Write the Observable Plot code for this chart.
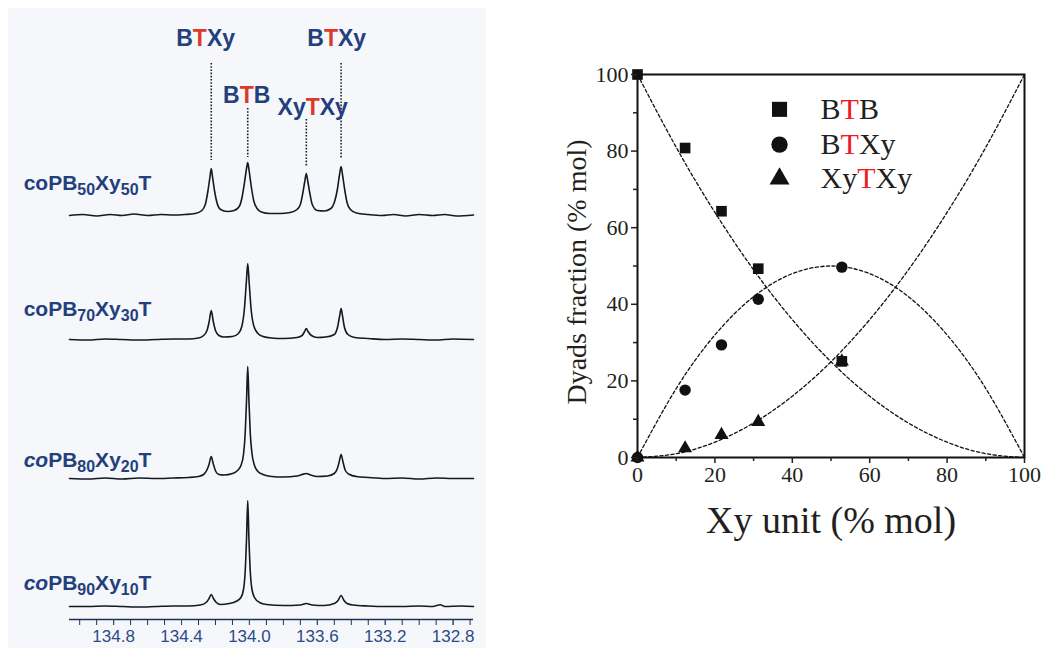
<!DOCTYPE html>
<html><head><meta charset="utf-8">
<script src="https://cdn.jsdelivr.net/npm/d3@7"></script>
<script src="https://cdn.jsdelivr.net/npm/@observablehq/plot@0.6"></script>
<style>
body{margin:0;background:#fff}
#wrap{position:relative;width:1042px;height:648px;overflow:hidden;background:#fff}
#bg{position:absolute;left:8px;top:8px;width:478px;height:640px;background:#f6f7fa}
#left{position:absolute;left:0;top:0}
#right{position:absolute;left:530px;top:0}
</style></head>
<body><div id="wrap"><div id="bg"></div><div id="left"></div><div id="right"></div></div>
<script>
// ---------- Left panel: 13C NMR spectra (ppm, relative intensity in a.u.) ----------
const spectrumNames = ["50/50", "70/30", "80/20", "90/10"];
const spectrumLabels = ["coPB_{50}Xy_{50}T", "coPB_{70}Xy_{30}T", "*co*PB_{80}Xy_{20}T", "*co*PB_{90}Xy_{10}T"];
const spectrumOffsets = [404, 280, 141, 13];
const spectrumLabelY = [436, 310, 159, 36];
const spectrumLabelPpm = 135.33;

const spectrum50 = [[135.06,0],[134.98,1],[134.9,-0.5],[134.82,1],[134.75,0],[134.68,1.5],[134.6,0],[134.52,1],[134.45,0.5],[134.38,1],[134.32,2],[134.28,5],[134.26,11],[134.245,24],[134.233,38],[134.225,47],[134.217,38],[134.205,24],[134.19,12],[134.17,6],[134.13,4],[134.09,5],[134.06,9],[134.045,17],[134.03,32],[134.018,46],[134.01,53],[134.002,45],[133.99,30],[133.975,15],[133.955,7],[133.93,3.5],[133.88,2],[133.82,2],[133.76,3],[133.72,6],[133.7,11],[133.686,22],[133.674,34],[133.665,42],[133.656,34],[133.644,22],[133.63,11],[133.6,5],[133.56,4.5],[133.52,7],[133.5,13],[133.482,26],[133.47,40],[133.46,49],[133.451,40],[133.438,25],[133.425,13],[133.405,6],[133.37,2.5],[133.3,1],[133.22,0],[133.15,1],[133.08,-0.5],[133.0,1],[132.92,0],[132.85,1],[132.78,-0.5],[132.68,0.5]];
const spectrum70 = [[135.06,0],[134.95,-0.5],[134.85,0.5],[134.75,0],[134.65,-0.5],[134.55,0],[134.45,0.5],[134.36,0.5],[134.3,1.5],[134.27,4],[134.25,9],[134.237,18],[134.225,29],[134.213,18],[134.2,9],[134.18,4],[134.15,2.5],[134.1,3],[134.065,6],[134.045,13],[134.03,30],[134.018,58],[134.01,76],[134.002,58],[133.99,30],[133.975,14],[133.95,6],[133.92,3],[133.87,1.5],[133.8,1],[133.72,2],[133.69,4],[133.675,8],[133.665,11],[133.655,8],[133.635,4],[133.6,2],[133.55,2.5],[133.5,5],[133.48,13],[133.468,24],[133.46,31],[133.452,24],[133.44,12],[133.42,5],[133.38,2],[133.3,1],[133.2,0],[133.1,0.5],[133.0,0],[132.9,-0.5],[132.8,0.5],[132.68,0]];
const spectrum80 = [[135.06,0],[134.95,-0.5],[134.85,0.5],[134.75,-0.5],[134.65,0.5],[134.55,0],[134.45,0.5],[134.36,1],[134.3,2],[134.27,4],[134.252,8],[134.238,14],[134.225,22],[134.212,14],[134.198,7],[134.18,4],[134.15,3.5],[134.1,5],[134.07,8],[134.05,13],[134.035,24],[134.025,45],[134.017,78],[134.01,112],[134.003,78],[133.995,45],[133.985,25],[133.97,13],[133.95,7],[133.92,4],[133.87,2],[133.8,1.5],[133.72,2.5],[133.69,4],[133.665,5],[133.64,3.5],[133.6,2],[133.54,2.5],[133.5,5],[133.482,10],[133.472,16],[133.46,24],[133.448,16],[133.435,8],[133.41,4],[133.37,2],[133.3,1],[133.2,0],[133.1,0.5],[133.0,-0.5],[132.9,0.5],[132.8,0],[132.68,0]];
const spectrum90 = [[135.06,0],[134.95,0],[134.85,0.5],[134.75,0],[134.65,-0.5],[134.55,0],[134.45,0.5],[134.36,0.5],[134.29,1.5],[134.255,4],[134.238,8],[134.225,12],[134.212,8],[134.195,4],[134.17,2],[134.12,3],[134.08,5],[134.05,9],[134.035,17],[134.025,35],[134.017,68],[134.01,106],[134.003,68],[133.995,35],[133.985,17],[133.97,9],[133.94,4],[133.9,2],[133.8,1],[133.7,1.5],[133.665,3],[133.63,1.5],[133.56,1],[133.5,3],[133.478,6],[133.46,11],[133.443,6],[133.425,3],[133.39,1.5],[133.3,0.5],[133.2,0],[133.1,0],[133.0,0.5],[132.92,0],[132.875,1.8],[132.85,0],[132.75,0.5],[132.68,0]];
const spectraPoints = [spectrum50, spectrum70, spectrum80, spectrum90];

const dyadLabels = ["B[T]Xy", "B[T]B", "Xy[T]Xy", "B[T]Xy"];
const dyadLabelPpm = [134.258, 134.016, 133.627, 133.486];
const dyadLabelY = [581, 524, 512, 581];
const dyadPeakPpm = [134.225, 134.01, 133.665, 133.46];
const dyadLineTop = [556, 511, 500, 556];
const dyadLineBottom = [459, 462, 452, 461];

const nmrMajorTicks = [134.8, 134.4, 134.0, 133.6, 133.2, 132.8];
const nmrMinorTicks = [135.0, 134.9, 134.8, 134.7, 134.6, 134.5, 134.4, 134.3, 134.2, 134.1, 134.0, 133.9, 133.8, 133.7, 133.6, 133.5, 133.4, 133.3, 133.2, 133.1, 133.0, 132.9, 132.8, 132.7];

// ---------- Right panel: dyad fractions ----------
const xyUnit = [0, 12.3, 21.7, 31.2, 52.8];
const btbFraction = [100, 80.8, 64.3, 49.3, 25.1];
const btxyFraction = [0, 17.6, 29.4, 41.3, 49.7];
const xytxyFraction = [0, 2.4, 5.9, 9.3, 25.1];

const modelX = [0, 10, 20, 30, 40, 50, 60, 70, 80, 90, 100];
const modelBTB = [100, 81, 64, 49, 36, 25, 16, 9, 4, 1, 0];
const modelBTXy = [0, 18, 32, 42, 48, 50, 48, 42, 32, 18, 0];
const modelXyTXy = [0, 1, 4, 9, 16, 25, 36, 49, 64, 81, 100];

const legendLabels = ["B[T]B", "B[T]Xy", "Xy[T]Xy"];
const legendSymbols = ["square", "circle", "triangle"];
const legendY = [90.9, 81.7, 72.8];
const legendMarkerX = 36.7;
const legendTextX = 47.3;
const legendR = [8.5, 8.2, 7.4];

const yTicks = [0, 20, 40, 60, 80, 100];
const yMinor = [10, 30, 50, 70, 90];
const xTicks = [0, 20, 40, 60, 80, 100];
const xMinor = [10, 30, 50, 70, 90];

// ---------- colours ----------
const NAVY = "#233f7d";
const RED = "#d83a2b";
const TRED = "#ec1c24";

// ---------- tables ----------
const spectraTable = spectraPoints.flatMap((pts, i) =>
  pts.map(([ppm, v]) => ({name: spectrumNames[i], ppm, y: spectrumOffsets[i] + v})));
const spectrumLabelTable = spectrumLabels.map((t, i) => ({t, ppm: spectrumLabelPpm, y: spectrumLabelY[i]}));
const dyadLabelTable = dyadLabels.map((t, i) => ({t, ppm: dyadLabelPpm[i], y: dyadLabelY[i]}));
const dyadLineTable = dyadPeakPpm.map((ppm, i) => ({ppm, y1: dyadLineTop[i], y2: dyadLineBottom[i]}));

const pointsTable = (ys, s) => xyUnit.map((x, i) => ({x, y: ys[i], s}));
const modelTable = [["BTB", modelBTB], ["BTXy", modelBTXy], ["XyTXy", modelXyTXy]]
  .flatMap(([s, ys]) => modelX.map((x, i) => ({x, y: ys[i], s})));
const legendTable = legendLabels.map((t, i) => ({t, sym: legendSymbols[i], y: legendY[i]}));

function richText(root, red) {
  root.querySelectorAll("text").forEach(el => {
    const s = el.textContent;
    if (!/[_\[*]/.test(s) || el.querySelector("tspan")) return;
    const fs = parseFloat(getComputedStyle(el).fontSize) || 16;
    const shift = 0.24 * fs;
    el.textContent = "";
    let lowered = false;
    const re = /_\{([^}]*)\}|\[([^\]]*)\]|\*([^*]*)\*|([^_\[*]+)/g;
    let m;
    while ((m = re.exec(s))) {
      const t = document.createElementNS("http://www.w3.org/2000/svg", "tspan");
      if (m[1] != null) {
        t.textContent = m[1];
        t.setAttribute("font-size", (0.76 * fs) + "px");
        if (!lowered) { t.setAttribute("dy", shift); lowered = true; }
      } else {
        if (lowered) { t.setAttribute("dy", -shift); lowered = false; }
        if (m[2] != null) { t.textContent = m[2]; t.setAttribute("fill", red); }
        else if (m[3] != null) { t.textContent = m[3]; t.setAttribute("font-style", "italic"); }
        else t.textContent = m[4];
      }
      el.appendChild(t);
    }
  });
}

// make sure the numeric tick labels get the intended size
function tickFont(root, px) {
  root.querySelectorAll("text").forEach(t => {
    if (/^\s*[0-9]+(\.[0-9])?\s*$/.test(t.textContent)) t.style.fontSize = px + "px";
  });
}

// ---------- left plot ----------
const left = Plot.plot({
  width: 490, height: 648,
  marginLeft: 69, marginRight: 17, marginTop: 0, marginBottom: 29,
  x: {domain: [135.06, 132.68]},
  y: {domain: [0, 619], axis: null},
  style: {background: "transparent", fontFamily: "'Liberation Sans', Arial, sans-serif", overflow: "visible"},
  marks: [
    Plot.ruleY([0], {stroke: "#1d3158", strokeWidth: 1.3}),
    Plot.axisX({ticks: nmrMinorTicks, tickSize: 6, tickFormat: () => "", label: null, color: "#1d3158"}),
    Plot.axisX({ticks: nmrMajorTicks, tickSize: 6, tickPadding: 4, tickFormat: d => d.toFixed(1), fontSize: 17, label: null, color: "#2b4c86"}),
    Plot.ruleX(dyadLineTable, {x: "ppm", y1: "y1", y2: "y2", stroke: "#222", strokeWidth: 1.6, strokeDasharray: "1.6,1.6"}),
    Plot.line(spectraTable, {x: "ppm", y: "y", z: "name", curve: "monotone-x", stroke: "#141922", strokeWidth: 1.6}),
    Plot.text(spectrumLabelTable, {x: "ppm", y: "y", text: "t", textAnchor: "start", lineAnchor: "middle", fontSize: 21, fontWeight: "bold", fill: NAVY}),
    Plot.text(dyadLabelTable, {x: "ppm", y: "y", text: "t", textAnchor: "middle", lineAnchor: "middle", fontSize: 23, fontWeight: "bold", fill: NAVY})
  ]
});
document.getElementById("left").appendChild(left);
richText(left, RED);
tickFont(left, 17);

// ---------- right plot ----------
const SERIF = "'Liberation Serif', 'Times New Roman', serif";
const right = Plot.plot({
  width: 512, height: 648,
  marginLeft: 107, marginRight: 18, marginTop: 74, marginBottom: 191,
  x: {domain: [0, 100]},
  y: {domain: [0, 100]},
  style: {background: "transparent", fontFamily: SERIF, color: "#231f20", overflow: "visible"},
  marks: [
    Plot.line(modelTable, {x: "x", y: "y", z: "s", curve: "natural", stroke: "#111", strokeWidth: 1.3, strokeDasharray: "3.2,2.4"}),
    Plot.dot(pointsTable(xytxyFraction, "XyTXy"), {x: "x", y: "y", symbol: "triangle", r: 5.2, fill: "#111", stroke: "none"}),
    Plot.dot(pointsTable(btxyFraction, "BTXy"), {x: "x", y: "y", symbol: "circle", r: 5.7, fill: "#111", stroke: "none"}),
    Plot.dot(pointsTable(btbFraction, "BTB"), {x: "x", y: "y", symbol: "square", r: 6, fill: "#111", stroke: "none"}),
    Plot.frame({stroke: "#111", strokeWidth: 2}),
    Plot.axisY({ticks: yMinor, tickSize: 4, tickFormat: () => "", label: null, strokeWidth: 1.5}),
    Plot.axisY({ticks: yTicks, tickSize: 6, tickPadding: 3, fontSize: 22, label: null, strokeWidth: 1.5}),
    Plot.axisX({ticks: xMinor, tickSize: 4, tickFormat: () => "", label: null, strokeWidth: 1.5}),
    Plot.axisX({ticks: xTicks, tickSize: 6, tickPadding: 3, fontSize: 22, label: null, strokeWidth: 1.5}),
    ...legendTable.map((d, i) => Plot.dot([d], {x: () => legendMarkerX, y: "y", symbol: "sym", r: legendR[i], fill: "#111", stroke: "none"})),
    Plot.text(legendTable, {x: () => legendTextX, y: "y", text: "t", textAnchor: "start", lineAnchor: "middle", fontSize: 30, fill: "#231f20"}),
    Plot.text(["Dyads fraction (% mol)"], {text: d => d, frameAnchor: "left", dx: -60, dy: 6, rotate: -90, textAnchor: "middle", lineAnchor: "middle", fontSize: 28, fill: "#231f20"}),
    Plot.text(["Xy unit (% mol)"], {text: d => d, frameAnchor: "bottom", dy: 63, textAnchor: "middle", lineAnchor: "middle", fontSize: 38, fill: "#231f20"})
  ]
});
document.getElementById("right").appendChild(right);
richText(right, TRED);
tickFont(right, 22);
</script>
</body></html>
